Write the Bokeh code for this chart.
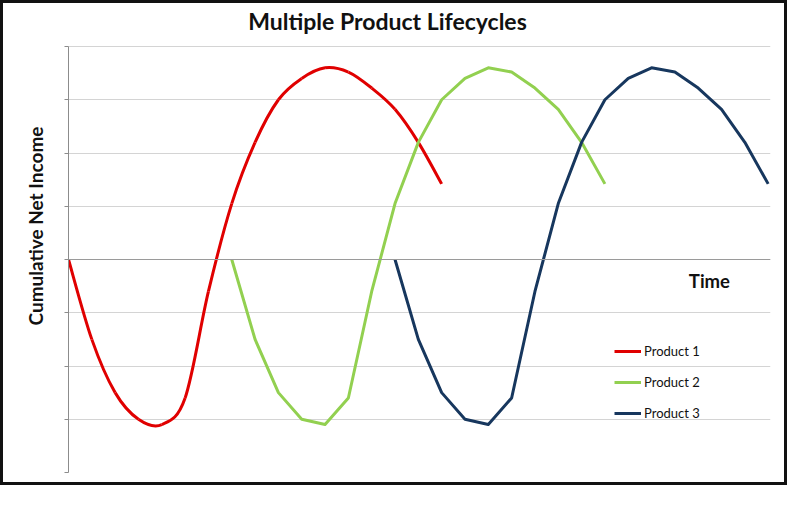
import math
from bokeh.plotting import figure
from bokeh.models import Range1d, Span, Label, Legend, LegendItem, FixedTicker, ColumnDataSource, Title
from bokeh.embed import file_html
from bokeh.resources import INLINE

# ---- data ----
title_text = "Multiple Product Lifecycles"
y_label_text = "Cumulative Net Income"
x_label_text = "Time"
series_names = ["Product 1", "Product 2", "Product 3"]

product1_time = list(range(0, 17))
product2_time = list(range(7, 24))
product3_time = list(range(14, 31))
product1_values = [0, -1.5, -2.5, -3.0, -3.1, -2.6, -0.6, 1.05, 2.2, 3.0, 3.4, 3.6, 3.52, 3.22, 2.82, 2.2, 1.42]
product2_values = [0, -1.5, -2.5, -3.0, -3.1, -2.6, -0.6, 1.05, 2.2, 3.0, 3.4, 3.6, 3.52, 3.22, 2.82, 2.2, 1.42]
product3_values = [0, -1.5, -2.5, -3.0, -3.1, -2.6, -0.6, 1.05, 2.2, 3.0, 3.4, 3.6, 3.52, 3.22, 2.82, 2.2, 1.42]
y_gridlines = [-4, -3, -2, -1, 0, 1, 2, 3, 4]

# ---- styles ----
RED = "#e00000"
GREEN = "#92d050"
NAVY = "#17375e"
FONT = "Lato"

W, H = 787, 485
ML, MR, MB = 64, 20, 16
PLOT_TOP = 43            # pixels from the top of the figure to the y = 4 gridline
frame_h = H - MB
px_per_unit = (frame_h - PLOT_TOP) / 8.0
y_top = 4 + PLOT_TOP / px_per_unit

p = figure(width=W, height=H, output_backend="svg", toolbar_location=None,
           x_range=Range1d(0, 30.1), y_range=Range1d(-4, y_top),
           min_border_left=ML, min_border_right=MR, min_border_top=0, min_border_bottom=MB)
p.styles = {"border": "3px solid #111111"}
p.outline_line_color = None
p.background_fill_color = "white"
p.border_fill_color = "white"
p.xaxis.visible = False
p.xgrid.visible = False
p.yaxis.ticker = FixedTicker(ticks=y_gridlines)
p.yaxis.bounds = (-4, 4)
p.yaxis.major_label_text_font_size = "0px"
p.yaxis.major_label_text_alpha = 0
p.yaxis.major_label_standoff = 0
p.yaxis.major_tick_out = 4
p.yaxis.major_tick_in = 0
p.yaxis.minor_tick_line_color = None
p.yaxis.axis_line_color = "#8c8c8c"
p.yaxis.major_tick_line_color = "#8c8c8c"
p.ygrid.ticker = FixedTicker(ticks=y_gridlines)
p.ygrid.grid_line_color = "#d4d4d4"
p.ygrid.grid_line_width = 1

p.add_layout(Span(location=0, dimension="width", line_color="#9a9a9a", line_width=1))


def smooth_segments(xs, ys):
    n = len(xs)
    d = dict(x0=[], y0=[], x1=[], y1=[], cx0=[], cy0=[], cx1=[], cy1=[])
    for i in range(n - 1):
        a = max(i - 1, 0)
        b = min(i + 2, n - 1)
        d["x0"].append(xs[i]); d["y0"].append(ys[i])
        d["x1"].append(xs[i + 1]); d["y1"].append(ys[i + 1])
        d["cx0"].append(xs[i] + (xs[i + 1] - xs[a]) / 6.0)
        d["cy0"].append(ys[i] + (ys[i + 1] - ys[a]) / 6.0)
        d["cx1"].append(xs[i + 1] - (xs[b] - xs[i]) / 6.0)
        d["cy1"].append(ys[i + 1] - (ys[b] - ys[i]) / 6.0)
    return ColumnDataSource(d)


# Product 1: smoothed line
r1 = p.bezier(x0="x0", y0="y0", x1="x1", y1="y1", cx0="cx0", cy0="cy0", cx1="cx1", cy1="cy1",
              source=smooth_segments(product1_time, product1_values), line_color=RED, line_width=3)
r2 = p.line(product2_time, product2_values, line_color=GREEN, line_width=3, line_join="round")
r3 = p.line(product3_time, product3_values, line_color=NAVY, line_width=3, line_join="round")

legend = Legend(items=[LegendItem(label=series_names[0], renderers=[r1]),
                       LegendItem(label=series_names[1], renderers=[r2]),
                       LegendItem(label=series_names[2], renderers=[r3])],
                location=(546, 49), border_line_color=None, background_fill_alpha=0,
                padding=0, margin=0, spacing=11, glyph_width=27, glyph_height=20,
                label_height=20, label_standoff=3, label_text_font=FONT,
                label_text_font_size="13px", label_text_color="#111111")
p.add_layout(legend)

p.add_layout(Label(x=319, y=frame_h - 17, x_units="screen", y_units="screen", text=title_text,
                   text_font=FONT, text_font_size="23px", text_font_style="bold",
                   text_align="center", text_baseline="middle", text_color="#111111"))
p.add_layout(Title(text=y_label_text, text_font=FONT, text_font_size="19px", text_font_style="bold",
                   text_color="#111111", align="left", offset=147, standoff=36), "left")
p.add_layout(Label(x=26.6, y=-0.4, text=x_label_text,
                   text_font=FONT, text_font_size="18.5px", text_font_style="bold",
                   text_align="left", text_baseline="middle", text_color="#111111"))

open("out.html", "w").write(file_html(p, INLINE))
